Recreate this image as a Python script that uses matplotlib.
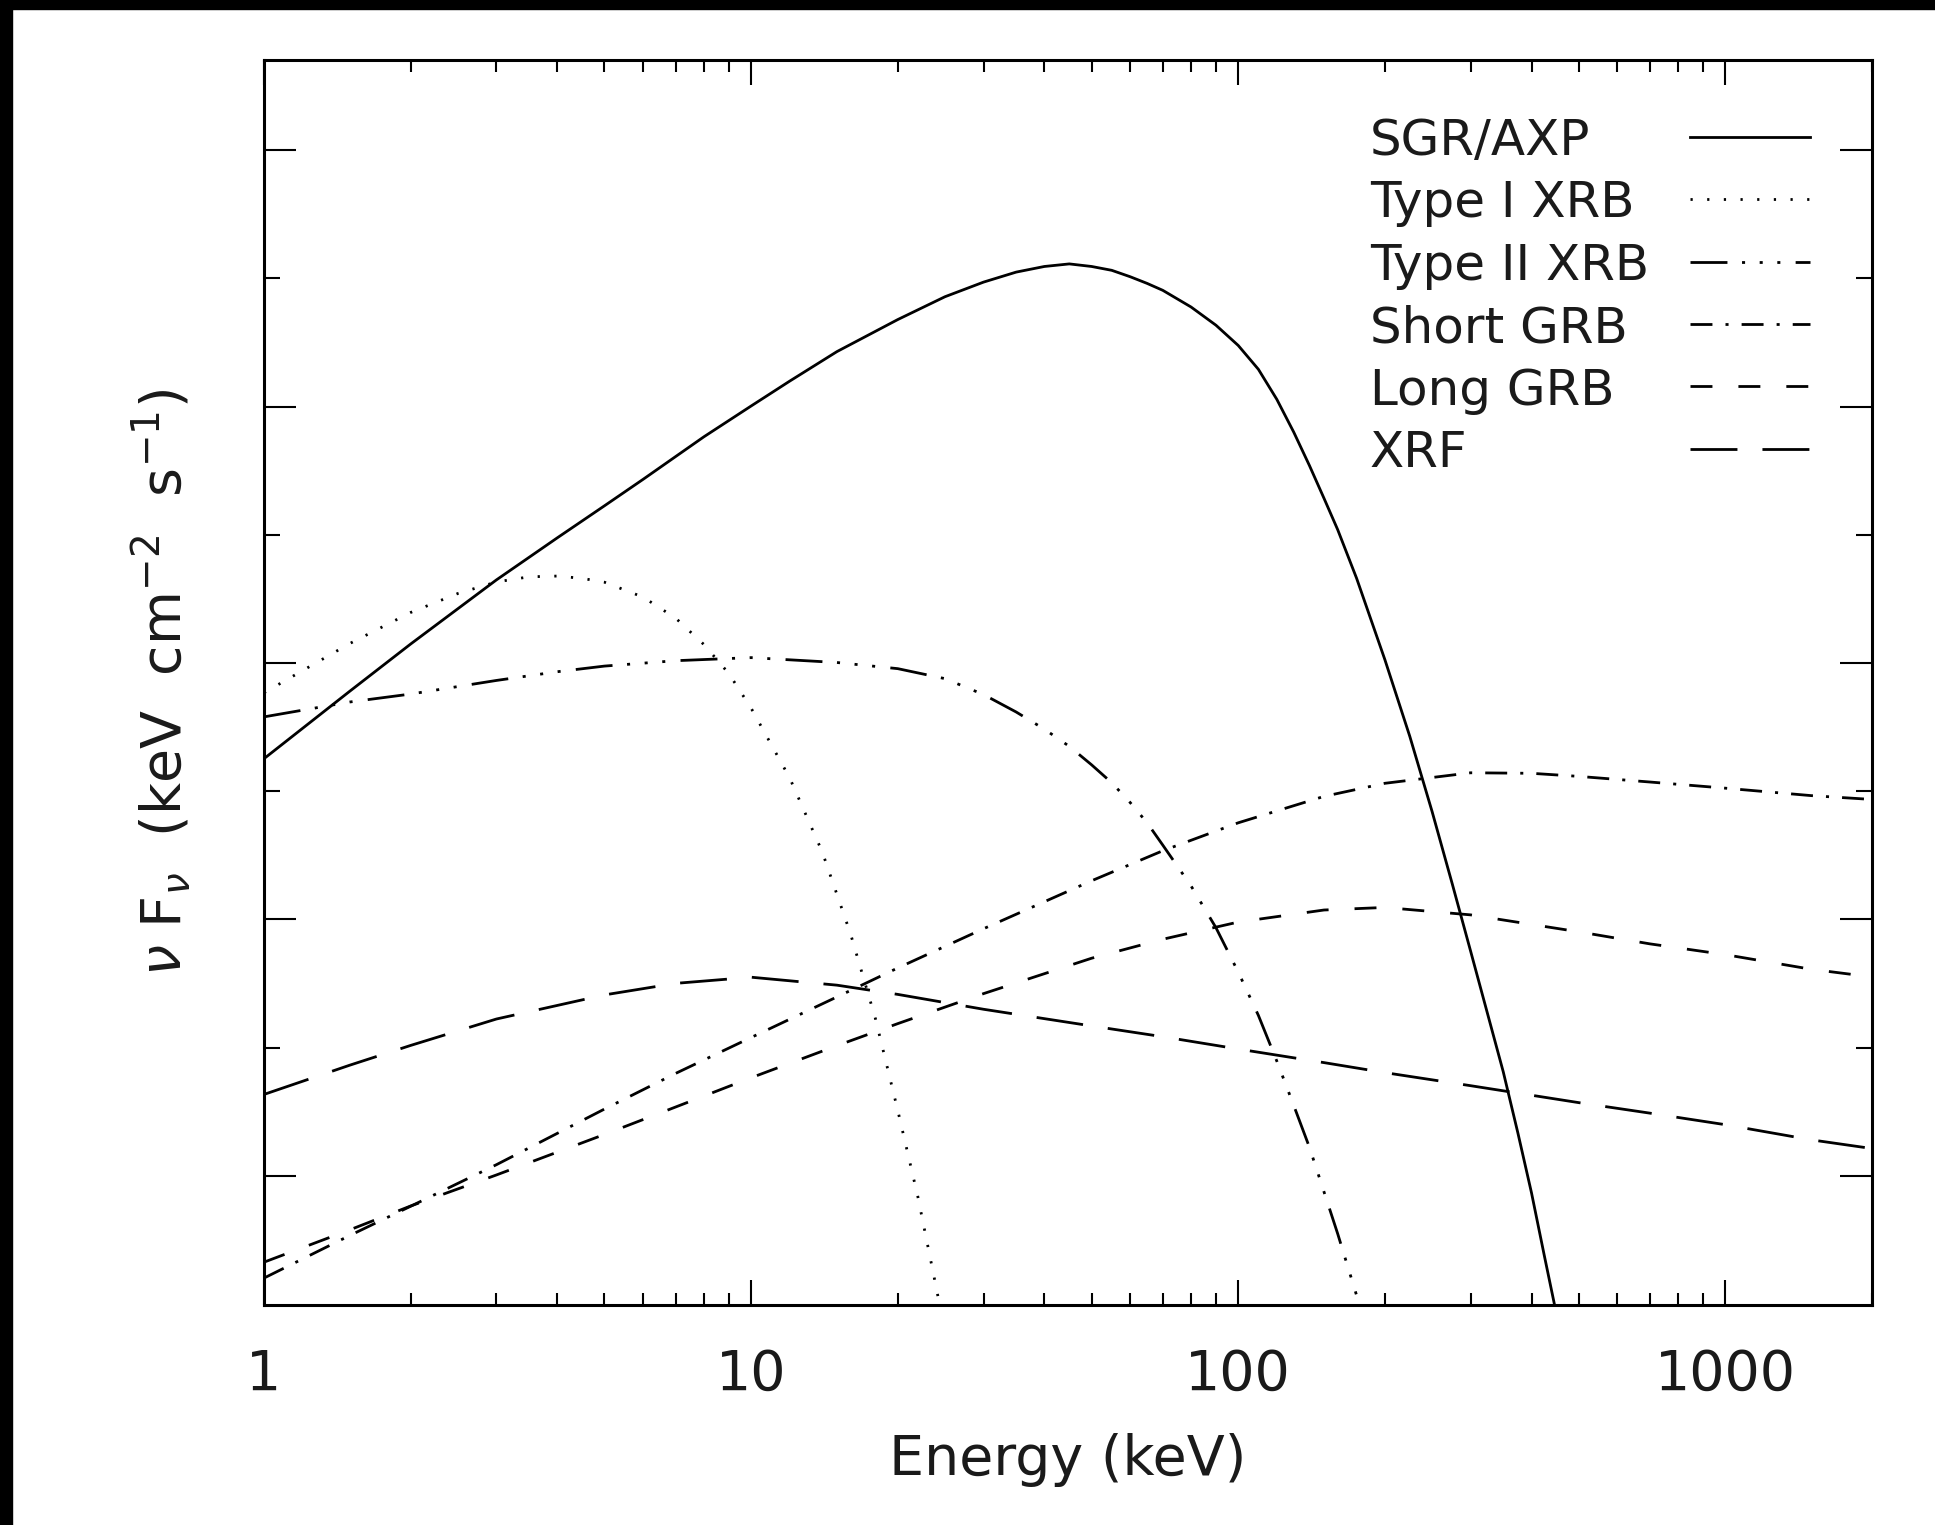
import numpy as np
import matplotlib
matplotlib.use("Agg")
import matplotlib.pyplot as plt
from matplotlib.patches import Rectangle
from matplotlib.ticker import FixedLocator, FixedFormatter, NullFormatter, LogLocator

plt.rcParams["font.family"] = "DejaVu Sans"
plt.rcParams["mathtext.fontset"] = "dejavusans"
plt.rcParams["lines.scale_dashes"] = False

# energies in keV, log10(nu F_nu) in arbitrary units
sgr_e = [1, 1.5, 2, 3, 4, 5, 6, 7, 8, 10, 12, 15, 20, 25, 30, 35, 40, 45, 50, 55,
         60, 65, 70, 80, 90, 100, 110, 120, 130, 140, 150, 160, 175, 200, 225, 250,
         275, 300, 325, 350, 375, 400, 425, 450]
sgr_logf = [-1.373, -1.110, -0.926, -0.676, -0.512, -0.387, -0.284, -0.195, -0.118, 0.002,
            0.099, 0.214, 0.339, 0.428, 0.485, 0.524, 0.546, 0.556, 0.546, 0.531,
            0.506, 0.480, 0.453, 0.388, 0.317, 0.238, 0.145, 0.028, -0.100, -0.230,
            -0.358, -0.480, -0.670, -0.987, -1.286, -1.579, -1.861, -2.124, -2.368, -2.594,
            -2.832, -3.066, -3.311, -3.538]

xrb1_e = [1, 1.5, 2, 2.5, 3, 3.5, 4, 4.5, 5, 6, 7, 8, 9, 10, 12, 14, 16, 18, 20, 22, 24, 25]
xrb1_logf = [-1.116, -0.924, -0.803, -0.729, -0.684, -0.664, -0.661, -0.670, -0.685, -0.743,
             -0.825, -0.928, -1.041, -1.176, -1.448, -1.737, -2.056, -2.387, -2.744, -3.082,
             -3.437, -3.610]

xrb2_e = [1, 1.5, 2, 3, 4, 5, 7, 10, 15, 20, 25, 30, 35, 40, 45, 50, 55, 60, 65, 70,
          80, 90, 100, 110, 120, 130, 140, 150, 160, 175, 180, 185]
xrb2_logf = [-1.210, -1.152, -1.121, -1.068, -1.034, -1.012, -0.991, -0.979, -0.998, -1.022,
             -1.061, -1.123, -1.191, -1.258, -1.325, -1.397, -1.467, -1.544, -1.623, -1.710,
             -1.869, -2.032, -2.205, -2.374, -2.552, -2.725, -2.888, -3.062, -3.225, -3.466,
             -3.547, -3.620]

sgrb_e = [1, 1.5, 2, 3, 5, 7, 10, 15, 20, 30, 50, 70, 100, 150, 200, 300, 400, 500, 700,
          1000, 1500, 2000]
sgrb_logf = [-3.398, -3.232, -3.118, -2.956, -2.739, -2.600, -2.460, -2.302, -2.189, -2.036,
             -1.849, -1.732, -1.623, -1.520, -1.469, -1.428, -1.430, -1.442, -1.464, -1.488,
             -1.517, -1.532]

lgrb_e = [1, 1.5, 2, 3, 5, 7, 10, 15, 20, 30, 50, 70, 100, 150, 200, 300, 500, 700, 1000,
          1500, 2000]
lgrb_logf = [-3.336, -3.210, -3.117, -2.996, -2.838, -2.731, -2.617, -2.492, -2.406, -2.289,
             -2.151, -2.077, -2.010, -1.963, -1.953, -1.982, -2.048, -2.095, -2.137, -2.194,
             -2.224]

xrf_e = [1, 1.5, 2, 3, 5, 7, 10, 15, 20, 30, 50, 70, 100, 150, 200, 300, 500, 700, 1000,
         1500, 2000]
xrf_logf = [-2.682, -2.568, -2.491, -2.388, -2.294, -2.249, -2.225, -2.256, -2.292, -2.350,
            -2.415, -2.457, -2.505, -2.558, -2.597, -2.648, -2.714, -2.755, -2.800, -2.859,
            -2.893]

labels = ["SGR/AXP", "Type I XRB", "Type II XRB", "Short GRB", "Long GRB", "XRF"]
styles = [
    None,
    (1.6, 10.4),
    (26.6, 10.5, 2.2, 10.5, 2.2, 10.5, 2.2, 11.0),
    (15.8, 9.4, 2.2, 9.4),
    (15.8, 18.7),
    (33.8, 18.0),
]
series = [(sgr_e, sgr_logf), (xrb1_e, xrb1_logf), (xrb2_e, xrb2_logf),
          (sgrb_e, sgrb_logf), (lgrb_e, lgrb_logf), (xrf_e, xrf_logf)]

W, H = 1935, 1525
fig = plt.figure(figsize=(W / 100, H / 100), dpi=100)
ax = fig.add_axes([264 / W, 1 - 1305 / H, 1608 / W, 1245 / H])

lw = 2.0
for (e, lf), ds in zip(series, styles):
    if ds is None:
        ax.plot(e, 10 ** np.array(lf), color="black", lw=lw)
    else:
        ax.plot(e, 10 ** np.array(lf), color="black", lw=lw, dashes=ds)

ax.set_xscale("log")
ax.set_yscale("log")
ax.set_xlim(1, 2000)
ax.set_ylim(10 ** -3.503, 10 ** 1.351)

ax.xaxis.set_major_locator(FixedLocator([1, 10, 100, 1000]))
ax.xaxis.set_major_formatter(FixedFormatter(["1", "10", "100", "1000"]))
ax.xaxis.set_minor_locator(LogLocator(base=10, subs=np.arange(2, 10), numticks=20))
ax.xaxis.set_minor_formatter(NullFormatter())
ax.yaxis.set_major_locator(FixedLocator(10.0 ** np.arange(-3, 2)))
ax.yaxis.set_minor_locator(FixedLocator(10.0 ** np.arange(-2.5, 1, 1)))
ax.yaxis.set_major_formatter(NullFormatter())
ax.yaxis.set_minor_formatter(NullFormatter())

ax.tick_params(axis="x", which="major", direction="in", length=18, width=1.5,
               top=True, bottom=True, labelsize=40, pad=31, labelcolor="#1a1a1a")
ax.tick_params(axis="x", which="minor", direction="in", length=8.6, width=1.5,
               top=True, bottom=True)
ax.tick_params(axis="y", which="major", direction="in", length=23, width=1.5,
               left=True, right=True)
ax.tick_params(axis="y", which="minor", direction="in", length=11.5, width=1.5,
               left=True, right=True)
for sp in ax.spines.values():
    sp.set_linewidth(2.2)

ax.set_xlabel("Energy (keV)", fontsize=40, labelpad=22, color="#1a1a1a")
ax.set_ylabel(r"$\nu$ F$_\nu$  (keV  cm$^{-2}$  s$^{-1}$)", fontsize=40, labelpad=47,
              color="#1a1a1a")

# legend drawn by hand: text left-aligned, line sample on the right
base0 = (1305 - 155) / 1245
line0 = (1305 - 136.7) / 1245
step = 62.4 / 1245
for i, (lab, ds) in enumerate(zip(labels, styles)):
    ax.text(0.6878, base0 - i * step, lab, transform=ax.transAxes,
            fontsize=36, ha="left", va="baseline", color="#1a1a1a")
    kw = dict(color="black", lw=lw, transform=ax.transAxes, clip_on=False)
    if ds is not None:
        kw["dashes"] = ds
    ax.plot([0.8868, 0.9614], [line0 - i * step] * 2, **kw)

# black strips along top and left edges of the original image
fig.patches.append(Rectangle((0, 1 - 9 / H), 1, 9 / H, transform=fig.transFigure,
                             color="black", zorder=10))
fig.patches.append(Rectangle((0, 0), 12 / W, 1, transform=fig.transFigure,
                             color="black", zorder=10))

fig.savefig("out.png", dpi=100)
